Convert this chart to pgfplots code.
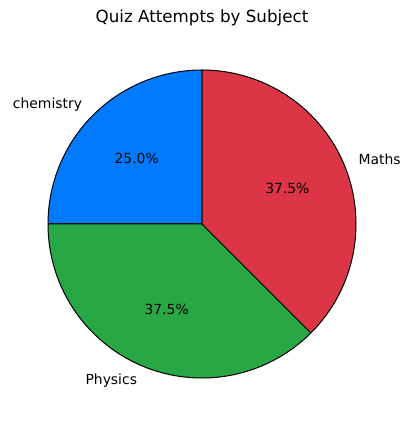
\documentclass[border=0pt]{standalone}
\usepackage{pgfplots}
\pgfplotsset{compat=1.18}
\usepackage{pgfplotstable}
\usepackage{fontspec}
\setmainfont{DejaVu Sans}

\definecolor{chemblue}{HTML}{007BFF}
\definecolor{physgreen}{HTML}{28A745}
\definecolor{mathred}{HTML}{DC3545}

% share of attempts, in percent (start at 90 deg, counter-clockwise)
\pgfplotstableread{
subject value color anchor
chemistry 25 chemblue east
Physics 37.5 physgreen east
Maths 37.5 mathred west
}\piedata

\begin{document}
\begin{tikzpicture}
\begin{axis}[
	hide axis,
	scale only axis,
	width=411pt, height=427pt,
	xmin=0, xmax=411,
	ymin=0, ymax=427,
	clip=false,
	/pgf/number format/assume math mode=true
]
% keep the full figure area as bounding box
\path (axis cs:0,0) rectangle (axis cs:411,427);
\def\cx{202}\def\cy{203}\def\r{154}
\def\angA{90}
\pgfplotsforeachungrouped \i in {0,1,2}{%
	\pgfplotstablegetelem{\i}{value}\of\piedata \let\val\pgfplotsretval
	\pgfplotstablegetelem{\i}{color}\of\piedata \let\col\pgfplotsretval
	\pgfplotstablegetelem{\i}{subject}\of\piedata \let\name\pgfplotsretval
	\pgfplotstablegetelem{\i}{anchor}\of\piedata \let\anc\pgfplotsretval
	\pgfmathsetmacro\angB{\angA+3.6*\val}
	\pgfmathsetmacro\angM{(\angA+\angB)/2}
	\pgfmathsetmacro\px{\cx+0.6*\r*cos(\angM)}
	\pgfmathsetmacro\py{\cy+0.6*\r*sin(\angM)}
	\pgfmathsetmacro\lx{\cx+1.1*\r*cos(\angM)}
	\pgfmathsetmacro\ly{\cy+1.1*\r*sin(\angM)}
	\edef\temp{%
		\noexpand\filldraw[fill=\col, draw=black, line width=1pt, line join=round]
			(axis cs:\cx,\cy) -- ++(\angA:\r pt)
			arc[start angle=\angA, end angle=\angB, radius=\r pt] -- cycle;
		\noexpand\node[font=\noexpand\fontsize{13.9}{16}\noexpand\selectfont]
			at (axis cs:\px,\py) {\noexpand\pgfmathprintnumber[fixed, fixed zerofill, precision=1, assume math mode=true]{\val}\noexpand\%};
		\noexpand\node[anchor=\anc, inner sep=0pt, font=\noexpand\fontsize{13.9}{16}\noexpand\selectfont]
			at (axis cs:\lx,\ly) {\name};
	}%
	\temp
	\global\let\angA\angB
}
\node[font=\fontsize{16.7}{19}\selectfont] at (axis cs:202,409) {Quiz Attempts by Subject};
\end{axis}
\end{tikzpicture}
\end{document}
